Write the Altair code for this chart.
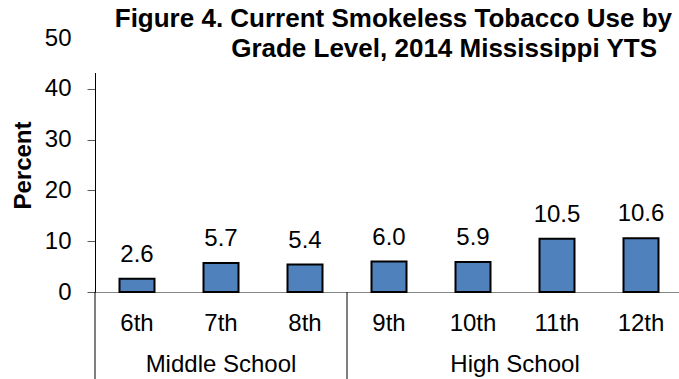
import altair as alt
import pandas as pd

# Chart data
grades = ["6th", "7th", "8th", "9th", "10th", "11th", "12th"]
percent = [2.6, 5.7, 5.4, 6.0, 5.9, 10.5, 10.6]
school = ["Middle School"] * 3 + ["High School"] * 4
group_names = ["Middle School", "High School"]
y_ticks = [0, 10, 20, 30, 40, 50]
title_lines = [
    "Figure 4. Current Smokeless Tobacco Use by",
    "Grade Level, 2014 Mississippi YTS",
]

df = pd.DataFrame({"grade": grades, "pct": percent, "school": school})
one = pd.DataFrame({"k": [0]})  # single row for decorations

# Layout
FONT = "Liberation Sans"
LEFT, TOP = 95, 38
PLOT_W, PLOT_H = 584, 254
STEP = 84
BAR_FILL = "#4F81BD"

x_scale = alt.Scale(domain=grades, range=[0, STEP * len(grades)],
                    paddingInner=0, paddingOuter=0)
y_scale = alt.Scale(domain=[0, 50], nice=False)

x_enc = alt.X(
    "grade:N", sort=grades, scale=x_scale, title=None,
    axis=alt.Axis(
        labelAngle=0, ticks=False, tickSize=0, labelFontSize=24,
        labelFont=FONT, labelColor="black", labelPadding=38,
        labelBaseline="alphabetic", domainColor="#868686", domainWidth=1,
    ),
)
y_enc = alt.Y(
    "pct:Q", scale=y_scale,
    axis=alt.Axis(
        values=y_ticks, title="Percent", titleFont=FONT, titleFontSize=24,
        titleFontWeight="bold", titleColor="black", titleAngle=-90,
        titleX=-65, titleY=PLOT_H / 2, titleAlign="center",
        titleBaseline="alphabetic",
        labelFont=FONT, labelFontSize=24, labelColor="black", labelPadding=16,
        tickSize=8, tickColor="#595959", domainColor="black", domainWidth=1,
        grid=False,
    ),
)

bars = alt.Chart(df).mark_bar(
    width=35, fill=BAR_FILL, stroke="black", strokeWidth=2
).encode(x=x_enc, y=y_enc)

values = alt.Chart(df).mark_text(
    font=FONT, fontSize=24, color="black", dy=-17, baseline="alphabetic"
).encode(x=alt.X("grade:N", sort=grades), y="pct:Q",
         text=alt.Text("pct:Q", format=".1f"))

# Background behind the title block
title_bg = alt.Chart(one).mark_rect(fill="white").encode(
    x=alt.value(-15), x2=alt.value(PLOT_W + 10),
    y=alt.value(-TOP), y2=alt.value(35),
)

title1 = alt.Chart(one).mark_text(
    text=title_lines[0], font=FONT, fontSize=26, fontWeight="bold",
    align="right", baseline="alphabetic", color="black",
).encode(x=alt.value(577), y=alt.value(27 - TOP))
title2 = alt.Chart(one).mark_text(
    text=title_lines[1], font=FONT, fontSize=26, fontWeight="bold",
    align="right", baseline="alphabetic", color="black",
).encode(x=alt.value(562), y=alt.value(57 - TOP))

# Category-group separators below the axis
sep_left = alt.Chart(one).mark_rule(color="black", strokeWidth=1).encode(
    x=alt.value(0), y=alt.value(PLOT_H), y2=alt.value(PLOT_H + 90))
sep_mid = alt.Chart(one).mark_rule(color="black", strokeWidth=1).encode(
    x=alt.value(3 * STEP), y=alt.value(PLOT_H), y2=alt.value(PLOT_H + 90))

group_centers = [1.5 * STEP, 5.0 * STEP]
group_layers = [
    alt.Chart(one).mark_text(
        text=name, font=FONT, fontSize=24, color="black", baseline="alphabetic"
    ).encode(x=alt.value(cx), y=alt.value(372 - TOP))
    for name, cx in zip(group_names, group_centers)
]

chart = alt.layer(
    bars, values, title_bg, title1, title2, sep_left, sep_mid, *group_layers
).properties(
    width=PLOT_W, height=PLOT_H,
    autosize=alt.AutoSizeParams(type="none"),
    padding={"left": LEFT, "top": TOP, "right": 0, "bottom": 379 - TOP - PLOT_H},
).configure_view(stroke=None)

chart.save("out.html", embed_options={"renderer": "svg", "actions": False})
